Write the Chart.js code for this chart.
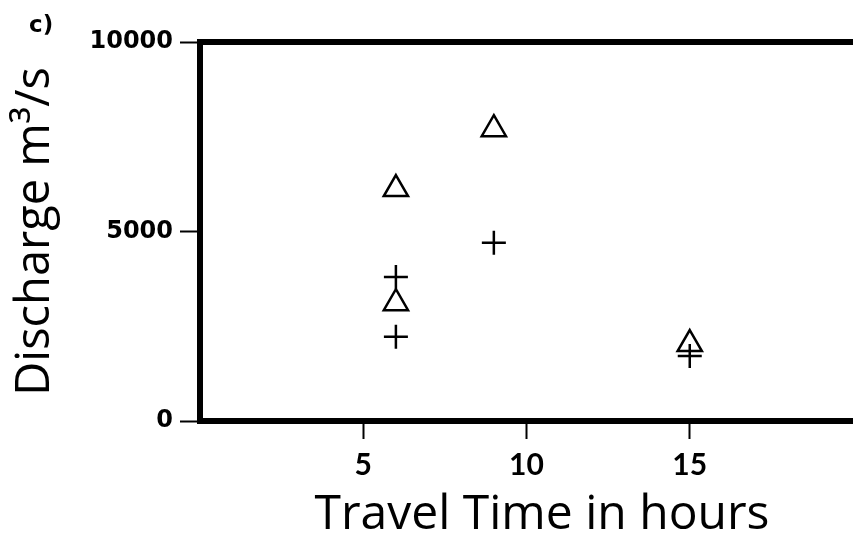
<!DOCTYPE html>
<html>
<head>
<meta charset="utf-8">
<script src="https://cdn.jsdelivr.net/npm/chart.js@4.4.1/dist/chart.umd.min.js"></script>
<style>
  html, body { margin: 0; padding: 0; background: #fff; overflow: hidden; }
  canvas { display: block; }
</style>
</head>
<body>
<canvas id="chart" width="853" height="534" style="width:853px;height:534px"></canvas>
<script>
// Travel time (hours) against discharge (m³/s)
const triangleHours = [6, 6, 9, 15];
const triangleDischarge = [6120, 3110, 7700, 2030];
const crossHours = [6, 6, 9, 15];
const crossDischarge = [3800, 2220, 4700, 1715];
const xTickValues = [5, 10, 15];
const yTickValues = [0, 5000, 10000];

const toPoints = (xs, ys) => xs.map((x, i) => ({ x: x, y: ys[i] }));

const TITLE_FONT = '"Open Sans", Lato, sans-serif';
const TICK_FONT = '"DejaVu Sans", sans-serif';

// Heavy rule along the top of the plotting area (the plot runs off the right edge)
const topRule = {
  id: 'topRule',
  beforeDatasetsDraw(chart) {
    const { ctx, chartArea: a } = chart;
    ctx.save();
    ctx.strokeStyle = '#000';
    ctx.lineWidth = 6;
    ctx.beginPath();
    ctx.moveTo(a.left - 3, a.top);
    ctx.lineTo(a.right + 3, a.top);
    ctx.stroke();
    ctx.restore();
  }
};

// Panel letter and the x-axis caption
const captions = {
  id: 'captions',
  afterDraw(chart) {
    const ctx = chart.ctx;
    ctx.save();
    ctx.fillStyle = '#000';
    ctx.textBaseline = 'alphabetic';
    ctx.font = 'bold 23px ' + TICK_FONT;
    ctx.textAlign = 'left';
    ctx.fillText('c)', 29, 32);
    ctx.font = '48px ' + TITLE_FONT;
    ctx.textAlign = 'center';
    ctx.fillText('Travel Time in hours', 542, 529);
    ctx.restore();
  }
};

new Chart(document.getElementById('chart'), {
  type: 'scatter',
  data: {
    datasets: [
      {
        label: 'Triangles',
        data: toPoints(triangleHours, triangleDischarge),
        pointStyle: 'triangle',
        pointRadius: 14,
        pointHoverRadius: 14,
        borderColor: '#000',
        backgroundColor: 'rgba(255,255,255,0)',
        borderWidth: 2.5,
        order: 1
      },
      {
        label: 'Crosses',
        data: toPoints(crossHours, crossDischarge),
        pointStyle: 'cross',
        pointRadius: 12,
        pointHoverRadius: 12,
        borderColor: '#000',
        backgroundColor: '#000',
        borderWidth: 2.5,
        order: 0
      }
    ]
  },
  options: {
    responsive: false,
    animation: false,
    devicePixelRatio: 1,
    layout: {
      autoPadding: false,
      padding: { top: 42, right: 0, left: 0, bottom: 0 }
    },
    plugins: {
      legend: { display: false },
      tooltip: { enabled: false }
    },
    scales: {
      x: {
        type: 'linear',
        min: 0,
        max: 20,
        afterBuildTicks(scale) {
          scale.ticks = xTickValues.map(v => ({ value: v }));
        },
        afterFit(scale) {
          scale.height = 113;
          scale.paddingLeft = 0;
          scale.paddingRight = 0;
        },
        grid: {
          drawOnChartArea: false,
          drawTicks: true,
          tickLength: 18,
          tickWidth: 2,
          tickColor: '#000'
        },
        border: { display: true, color: '#000', width: 6 },
        ticks: {
          color: '#000',
          padding: 8,
          maxRotation: 0,
          font: { family: 'Lato, sans-serif', size: 30, weight: 'bold' }
        },
        title: { display: false }
      },
      y: {
        type: 'linear',
        min: 0,
        max: 10000,
        afterBuildTicks(scale) {
          scale.ticks = yTickValues.map(v => ({ value: v }));
        },
        afterFit(scale) { scale.width = 200; },
        grid: {
          drawOnChartArea: false,
          drawTicks: true,
          tickLength: 20,
          tickWidth: 2,
          tickColor: '#000'
        },
        border: { display: true, color: '#000', width: 6 },
        ticks: {
          color: '#000',
          padding: 7,
          font: { family: TICK_FONT, size: 24, weight: 'bold' },
          callback: v => String(v)
        },
        title: {
          display: true,
          text: 'Discharge m³/s',
          color: '#000',
          padding: { top: 12, bottom: 0 },
          font: { family: TITLE_FONT, size: 47, lineHeight: 1 }
        }
      }
    }
  },
  plugins: [topRule, captions]
});
</script>
</body>
</html>
